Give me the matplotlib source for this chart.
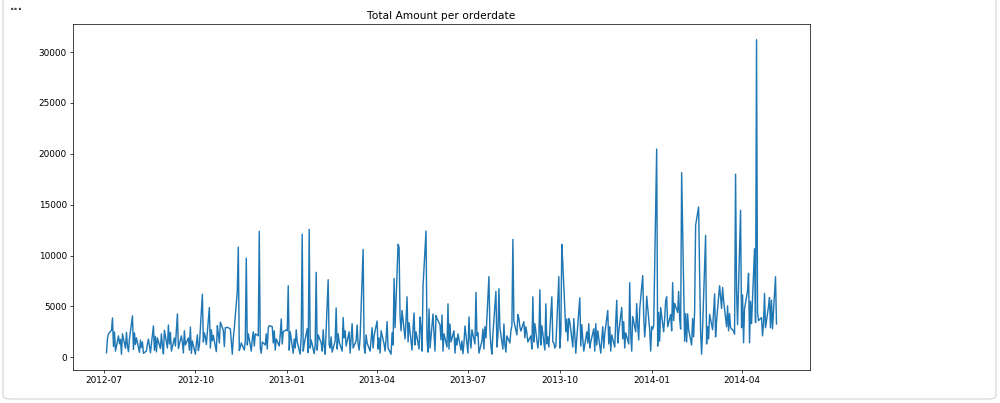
import pandas as pd
import numpy as np
import matplotlib
matplotlib.use("Agg")
import matplotlib.pyplot as plt
import matplotlib.dates as mdates
from matplotlib.patches import FancyBboxPatch

# daily totals (business days), one list per month
m2012_07 = [440, 1860, 2310, 2650, 3860, 1050, 2480, 600, 2100, 1320, 1750, 290, 2300, 880, 2450, 1100, 540, 1850, 4060, 760]
m2012_08 = [2400, 1250, 1900, 480, 1680, 950, 1500, 380, 620, 1320, 1780, 1100, 450, 3070, 680, 2050, 520, 1900, 850, 2300, 1150, 320, 2650]
m2012_09 = [900, 3170, 1300, 2450, 600, 1900, 1100, 2700, 4260, 850, 2100, 1500, 420, 2600, 1200, 1900, 700, 2970, 380, 1600]
m2012_10 = [300, 1350, 2200, 650, 1150, 6200, 1500, 2400, 2000, 1250, 4880, 900, 2700, 1600, 2150, 550, 3100, 2300, 1400, 3450, 2650, 1050, 2900]
m2012_11 = [2900, 2950, 2800, 1500, 300, 1900, 2850, 6470, 10820, 650, 1000, 1400, 700, 1600, 9730, 1200, 2300, 600, 1800, 2500, 1100, 2300]
m2012_12 = [2100, 12380, 900, 400, 1500, 1200, 2300, 800, 2900, 3100, 3000, 1400, 2600, 700, 1800, 1100, 2200, 3760, 1300, 2500, 2700]
m2013_01 = [2600, 7030, 700, 2500, 400, 1800, 900, 2700, 1500, 300, 2100, 12080, 600, 1300, 2800, 450, 12570, 900, 1700, 350, 1200, 8350, 700]
m2013_02 = [2200, 1400, 600, 2700, 1100, 300, 7620, 1200, 900, 2000, 500, 1600, 4850, 800, 2300, 1500, 600, 3900, 1900, 2600]
m2013_03 = [1100, 2500, 400, 1800, 3300, 900, 1600, 3170, 1300, 700, 1900, 10600, 1000, 400, 2200, 1400, 600, 1800, 2900, 900, 2100]
m2013_04 = [3560, 800, 1900, 400, 2600, 1300, 600, 1800, 3500, 900, 300, 2400, 1200, 7750, 2900, 11090, 10820, 4000, 2600, 4600, 1800, 3700]
m2013_05 = [5940, 1500, 3400, 700, 2800, 4350, 1200, 2500, 800, 3960, 2900, 600, 7000, 12400, 1800, 500, 4750, 900, 4250, 2300, 600, 4100, 3800]
m2013_06 = [3200, 1700, 4160, 600, 2300, 1000, 5250, 800, 3270, 1500, 2600, 400, 1900, 1200, 2300, 700, 1600, 350, 1400, 3070]
m2013_07 = [400, 3960, 1800, 900, 2700, 1300, 6370, 2100, 2400, 400, 1600, 2770, 800, 3000, 1900, 7920, 2600, 1100, 300, 2300, 6470, 1000, 2200]
m2013_08 = [6730, 2900, 800, 3270, 1200, 500, 2100, 1400, 2600, 3100, 11580, 3560, 2200, 4200, 3800, 3000, 2570, 3500, 1900, 3000, 2400, 1500]
m2013_09 = [2100, 800, 5940, 1500, 3300, 900, 1800, 6630, 1200, 3100, 700, 5250, 1300, 2000, 1000, 5940, 1500, 1400, 900, 1100, 7920]
m2013_10 = [900, 2300, 11090, 9200, 2500, 3760, 1600, 3800, 3500, 1000, 3800, 2200, 400, 1900, 5840, 1100, 3200, 1800, 600, 2500, 1400, 3300, 900]
m2013_11 = [1500, 2800, 600, 3300, 1200, 2600, 400, 1800, 3000, 900, 2300, 4600, 1300, 3000, 600, 2200, 1000, 3500, 5600, 1400, 2500]
m2013_12 = [4900, 1800, 3500, 900, 2400, 1300, 7330, 2200, 600, 4000, 2500, 5280, 3100, 1700, 4700, 8020, 4100, 2000, 3300, 6000, 2700, 600]
m2014_01 = [3000, 2770, 3100, 20470, 1090, 4390, 1580, 4880, 2500, 3800, 5540, 5940, 3000, 4200, 2600, 7330, 3600, 5300, 4400, 6470, 3800, 2770, 18150]
m2014_02 = [1580, 4290, 1500, 4260, 2700, 1200, 3800, 2000, 4500, 12970, 14780, 8200, 2500, 300, 2900, 11980, 1300, 3000, 1800, 4220]
m2014_03 = [2700, 4500, 6240, 2000, 3600, 7030, 5900, 4800, 6860, 5600, 3000, 5050, 2600, 4300, 2900, 2600, 2280, 18000, 6530, 3200, 14450]
m2014_04 = [2900, 6140, 1420, 4800, 6500, 8250, 1420, 5500, 3300, 10660, 3400, 31220, 4400, 3600, 3900, 2100, 3300, 6270, 2900, 5000, 5870, 2900]
m2014_05 = [5600, 2800, 7920, 3270]

months = [
    ("2012-07-04", m2012_07), ("2012-08-01", m2012_08), ("2012-09-01", m2012_09),
    ("2012-10-01", m2012_10), ("2012-11-01", m2012_11), ("2012-12-01", m2012_12),
    ("2013-01-01", m2013_01), ("2013-02-01", m2013_02), ("2013-03-01", m2013_03),
    ("2013-04-01", m2013_04), ("2013-05-01", m2013_05), ("2013-06-01", m2013_06),
    ("2013-07-01", m2013_07), ("2013-08-01", m2013_08), ("2013-09-01", m2013_09),
    ("2013-10-01", m2013_10), ("2013-11-01", m2013_11), ("2013-12-01", m2013_12),
    ("2014-01-01", m2014_01), ("2014-02-01", m2014_02), ("2014-03-01", m2014_03),
    ("2014-04-01", m2014_04), ("2014-05-01", m2014_05),
]

dates = []
amounts = []
for start, vals in months:
    days = pd.bdate_range(start, pd.Timestamp(start) + pd.offsets.MonthEnd(0))
    for d, v in zip(days, vals):
        dates.append(d)
        amounts.append(v)

df = pd.DataFrame({"orderdate": dates, "amount": amounts})

fig = plt.figure(figsize=(1000 / 64, 403 / 64), dpi=64)
ax = fig.add_axes([73 / 1000, 33 / 403, 737 / 1000, 346 / 403])
ax.plot(df["orderdate"], df["amount"], linewidth=1.6)
ax.set_title("Total Amount per orderdate")
ax.xaxis.set_major_locator(mdates.MonthLocator(bymonth=[1, 4, 7, 10]))
ax.xaxis.set_major_formatter(mdates.DateFormatter("%Y-%m"))

# notebook output frame
frame = FancyBboxPatch((3 / 1000, 4 / 403), 993 / 1000, 420 / 403,
                       boxstyle="round,pad=0,rounding_size=0.008",
                       transform=fig.transFigure, fill=False,
                       edgecolor="#d4d4d4", linewidth=1.2, zorder=-1)
fig.patches.append(frame)
fig.text(10 / 1000, 1 - 7 / 403, "...", fontsize=13, fontweight="bold",
         color="#444444", ha="left", va="center")

fig.savefig("out.png", dpi=64)
